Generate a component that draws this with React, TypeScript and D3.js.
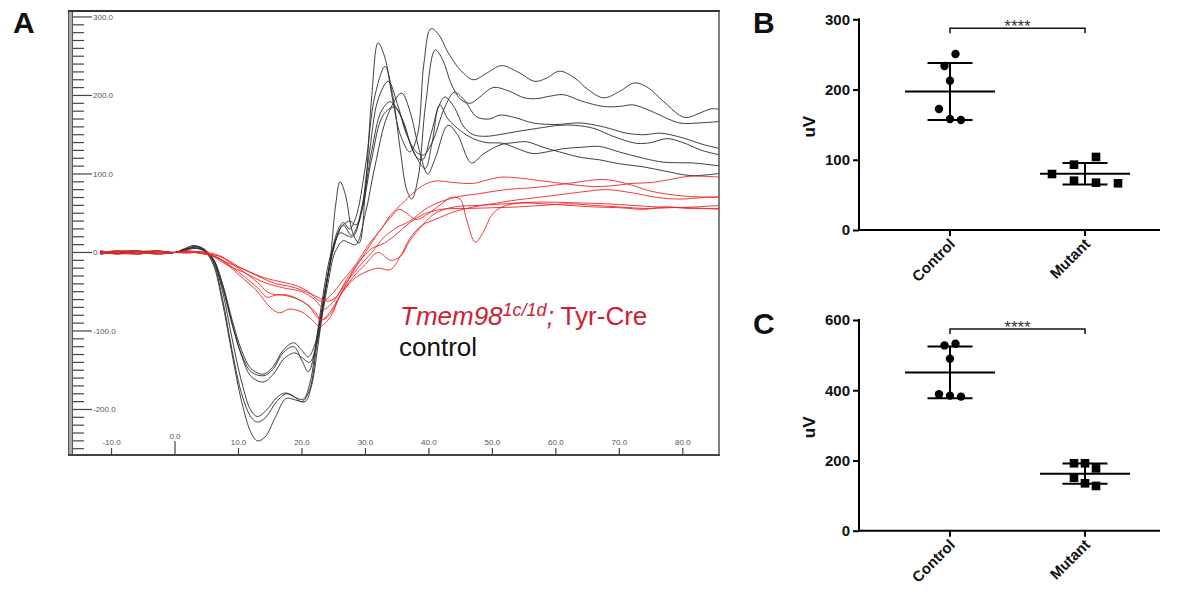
import React, { useEffect, useRef } from "react";
import * as d3 from "d3";

// ---------- Panel A: ERG traces, [time ms, amplitude uV] ----------
const ctl1 = [
  [-11.8, -1], [-9, 2], [-6, -1], [-3, 2], [0, 0], [1.5, 4], [3, 8], [4.5, 5], [6, -10], [7.5, -50],
  [9, -110], [10.5, -165], [12, -202], [13, -209], [14.5, -200], [16, -185], [17.3, -179], [18.5, -182],
  [20, -190], [21.2, -175], [22.3, -120], [23.4, -60], [24.4, -13], [25.3, 60], [26, 90], [26.8, 75],
  [28, 25], [29, 12], [30, 80], [31, 200], [32, 267], [33, 250], [34.3, 194], [35.5, 150], [37, 128],
  [38.2, 150], [39.2, 240], [40.3, 285], [41.5, 278], [43, 255], [45, 232], [47, 220], [49, 228],
  [51.4, 238], [54, 230], [56.7, 218], [58.5, 222], [60.6, 231], [63, 222], [65, 208], [67.5, 197],
  [70, 205], [72.4, 216], [74.5, 210], [77, 192], [80.3, 172], [82.5, 177], [84.5, 183], [86, 182],
];
const ctl2 = [
  [-11.8, 1], [-9, -2], [-6, 1], [-3, -2], [0, 0], [1.5, 3], [3, 6], [4.5, 3], [6, -15], [7.5, -65],
  [9, -130], [10.5, -190], [12, -230], [13, -240], [14.2, -235], [15.8, -210], [17.5, -186], [19, -188],
  [20.5, -190], [21.5, -170], [22.5, -120], [23.5, -60], [24.5, -10], [25.5, 25], [26.5, 38], [27.5, 30],
  [28.5, 45], [30, 110], [31.5, 200], [33.1, 237], [34.3, 200], [35.5, 130], [36.5, 80], [37.3, 68],
  [38.3, 95], [39.5, 190], [41, 258], [42.2, 245], [43.5, 215], [45, 195], [46.5, 190], [48, 198],
  [50.1, 210], [52.5, 206], [55, 197], [57, 196], [59, 199], [61.2, 201], [64, 193], [67.5, 186],
  [70, 186], [72.2, 188], [75, 180], [79.5, 165], [82.5, 165], [86, 167],
];
const ctl3 = [
  [-11.8, -2], [-9, 1], [-6, 2], [-3, -1], [0, 0], [1.5, 5], [3, 9], [4.5, 4], [6, -12], [7.5, -60],
  [9, -125], [10.5, -180], [12, -210], [13, -216], [14.3, -210], [16, -190], [17.6, -180], [19, -185],
  [20.2, -187], [21.3, -165], [22.3, -110], [23.3, -55], [24.3, -10], [25.5, 20], [26.5, 35], [27.8, 22],
  [29, 40], [30.5, 120], [32, 195], [33.6, 218], [35, 190], [36.5, 150], [38, 128], [39.1, 124],
  [40.5, 140], [42.5, 185], [44, 204], [45.5, 195], [47.5, 173], [49.5, 170], [51.2, 175], [53.5, 172],
  [56.4, 165], [60, 163], [63.8, 165], [67.5, 160], [71.1, 152], [74, 150], [76.4, 152], [80, 146],
  [83, 138], [86, 132],
];
const ctl4 = [
  [-11.8, 0], [-9, -1], [-6, 2], [-3, -1], [0, 0], [1.5, 3], [3, 7], [4.5, 4], [6, -8], [7.5, -40],
  [9, -86], [10.5, -125], [12, -148], [13.9, -155], [15.5, -145], [17, -125], [18.7, -115], [20, -125],
  [21, -133], [22, -118], [23, -80], [24, -35], [25, 5], [26, 30], [27.5, 40], [28.5, 35], [29.5, 60],
  [31, 130], [32.5, 180], [33.9, 192], [35.2, 180], [36.8, 145], [38, 122], [39, 118], [40.3, 150],
  [41.5, 185], [42.5, 198], [44, 185], [45.5, 160], [47, 150], [49, 148], [51, 150], [53.8, 154],
  [57, 158], [60.6, 162], [63, 162], [66, 158], [69, 148], [72.7, 139], [75, 140], [77.5, 145],
  [80, 140], [83, 130], [86, 124],
];
const ctl5 = [
  [-11.8, -1], [-9, 1], [-6, -2], [-3, 1], [0, 0], [1.5, 4], [3, 6], [4.5, 2], [6, -10], [7.5, -45],
  [9, -92], [10.5, -130], [12, -152], [14, -157], [15.5, -148], [17, -128], [18.7, -120], [20, -138],
  [21, -152], [21.8, -135], [22.8, -90], [23.8, -40], [24.8, 0], [26, 25], [27, 22], [28, 20],
  [29.5, 55], [31, 120], [32.8, 175], [34.5, 185], [35.8, 170], [37.5, 130], [39.4, 107], [40.5, 140],
  [41.7, 188], [43, 170], [45, 155], [47, 145], [49, 140], [51.7, 139], [54, 132], [56.4, 126],
  [58.5, 128], [61, 132], [64, 134], [66.9, 135], [70, 128], [73.8, 120], [77, 115], [81.6, 114],
  [84, 112], [86, 110],
];
const ctl6 = [
  [-11.8, 1], [-9, -1], [-6, 1], [-3, 2], [0, 0], [1.5, 2], [3, 5], [4.5, 3], [6, -8], [7.5, -42],
  [9, -90], [10.5, -132], [12, -158], [13.9, -165], [15.5, -155], [17.2, -135], [18.9, -128], [20, -134],
  [21.2, -140], [22.2, -120], [23.2, -80], [24.2, -35], [25.2, 0], [26.5, 15], [27.5, 12], [28.5, 10],
  [30, 50], [31.5, 110], [33.5, 175], [35.7, 203], [37, 180], [38.5, 130], [39.8, 100], [41, 120],
  [43, 162], [44.5, 150], [46.7, 114], [48.5, 125], [51.2, 137], [53.5, 140], [55.4, 141], [58, 134],
  [60.6, 128], [64, 121], [66.9, 118], [70, 113], [73.8, 109], [77, 104], [81.1, 98], [84, 99], [86, 101],
];

const mut1 = [
  [-11.8, -2], [-9, 1], [-6, -1], [-3, 2], [0, 0], [2, 1], [4, -1], [6, -4], [8, -12], [11, -22],
  [14, -32], [17, -38], [19, -42], [21, -50], [23, -62], [24.5, -55], [26.5, -35], [28.5, -15],
  [30.5, 10], [32.5, 30], [34, 48], [35.5, 60], [37, 72], [39, 85], [41, 91], [44, 89], [47, 88],
  [49, 92], [51.4, 96], [54, 95], [57, 92], [60, 89], [63, 86], [66, 84], [69, 85], [72, 88], [75, 89],
  [78, 93], [81, 97], [86, 96],
];
const mut2 = [
  [-11.8, 1], [-9, -2], [-6, 1], [-3, -1], [0, 0], [2, 2], [4, 0], [6, -5], [8, -15], [11, -26],
  [14, -38], [17, -45], [20, -50], [22, -60], [23.5, -72], [25, -62], [27, -38], [29, -18], [31, 0],
  [33, 20], [35, 32], [37, 40], [40, 58], [44, 70], [48, 75], [52, 80], [57, 83], [62, 88], [67.5, 93],
  [71, 88], [75, 78], [80, 72], [86, 70],
];
const mut3 = [
  [-11.8, 0], [-9, 2], [-6, -2], [-3, 1], [0, 0], [2, 1], [4, -1], [7, -8], [10, -25], [13, -45],
  [14.5, -57], [16, -54], [17.5, -55], [20, -62], [22, -75], [23.1, -86], [24.5, -78], [26, -55],
  [28, -25], [30, 0], [32, 25], [34, 45], [35.3, 55], [36.5, 50], [38, 42], [40, 50], [42, 62],
  [43.5, 70], [44.9, 68], [46, 40], [47.3, 13], [48.5, 25], [50.1, 50], [52.2, 60], [55, 63], [58, 62],
  [62, 60], [66, 58], [70, 57], [74, 55], [77, 58], [81, 56], [86, 56],
];
const mut4 = [
  [-11.8, -1], [-9, 1], [-6, 2], [-3, -1], [0, 0], [2, -1], [4, 1], [7, -8], [10, -28], [13, -50],
  [15, -70], [16.5, -77], [18, -72], [20, -76], [21.5, -85], [22.8, -94], [24.5, -82], [26, -55],
  [28, -32], [30, -15], [32, 0], [34, -10], [35.5, -5], [37, 15], [39, 35], [41, 50], [44, 58],
  [48, 60], [52, 62], [56, 64], [60, 64], [64, 63], [68, 62], [72, 60], [76, 58], [81, 57], [86, 55],
];
const mut5 = [
  [-11.8, 2], [-9, -1], [-6, -2], [-3, 1], [0, 0], [2, 1], [4, -1], [7, -5], [10, -20], [13, -38],
  [14.5, -50], [16, -54], [17.5, -54], [19, -58], [21, -68], [23, -86], [24.5, -75], [26, -55],
  [28, -35], [30, -25], [32, -20], [33.9, -22], [35.5, -5], [37, 18], [39, 35], [41, 42], [44, 52],
  [47, 58], [50, 62], [53, 66], [57, 70], [61, 74], [65, 78], [68, 80], [72, 76], [76, 70], [80, 68],
  [83, 70], [86, 71],
];
const mut6 = [
  [-11.8, -1], [-9, 2], [-6, 1], [-3, -2], [0, 0], [2, 0], [4, 1], [7, -4], [10, -18], [13, -30],
  [16, -40], [18, -43], [20, -48], [22, -55], [24, -62], [25.2, -58], [27, -35], [29, -12], [31, 5],
  [33, 12], [35, 24], [37, 38], [39, 48], [42, 55], [46, 56], [50, 57], [54, 58], [58, 60], [62, 62],
  [66, 60], [70, 58], [74, 56], [78, 57], [82, 58], [86, 60],
];

const controlTraces = [ctl1, ctl2, ctl3, ctl4, ctl5, ctl6];
const mutantTraces = [mut1, mut2, mut3, mut4, mut5, mut6];

const traceXTicks = [-10, 0, 10, 20, 30, 40, 50, 60, 70, 80];
const traceYMajor = [-200, -100, 0, 100, 200, 300];
const traceYMinor = d3.range(-250, 301, 10);

// ---------- Panels B and C: amplitudes (uV) ----------
const groups = ["Control", "Mutant"];
const aWaveControl = [250.6, 233.5, 212.6, 172.3, 158, 156.6];
const aWaveMutant = [79.7, 93, 70.2, 104, 67.4, 66.5];
const bWaveControl = [527.6, 532.4, 489.9, 388.5, 384.6, 381.8];
const bWaveMutant = [192, 192, 177.6, 151, 135, 127.4];
const aTicks = [0, 100, 200, 300];
const bTicks = [0, 200, 400, 600];

const FONT = "'Liberation Sans', Arial, Helvetica, sans-serif";
const RED_TEXT = "#cc2131";

// rows of close values spread sideways, like a scatter dot plot
const swarm = (values: number[], y: (v: number) => number, spacing: number) => {
  const order = values.map((v, i) => i).sort((a, b) => values[b] - values[a]);
  const rows: number[][] = [];
  order.forEach((i) => {
    const row = rows[rows.length - 1];
    if (row && y(values[i]) - y(values[row[0]]) <= 13) row.push(i);
    else rows.push([i]);
  });
  const offsets = values.map(() => 0);
  rows.forEach((row) => {
    const r = row.length === 2 ? [...row].reverse() : row;
    r.forEach((i, k) => (offsets[i] = (k - (r.length - 1) / 2) * spacing));
  });
  return offsets;
};

const drawTraces = (svg: any) => {
  const x = d3.scaleLinear().domain([-16.7, 85.7]).range([69, 719]);
  const y = d3.scaleLinear().domain([-258, 307.6]).range([455, 11]);
  const g = svg.append("g");

  svg
    .append("clipPath")
    .attr("id", "clipA")
    .append("rect")
    .attr("x", 73)
    .attr("y", 11)
    .attr("width", 646)
    .attr("height", 444);

  // y ticks
  g.selectAll("line.minor")
    .data(traceYMinor)
    .enter()
    .append("line")
    .attr("x1", 73)
    .attr("x2", (d: number) => (traceYMajor.includes(d) ? 92 : 84))
    .attr("y1", (d: number) => y(d))
    .attr("y2", (d: number) => y(d))
    .attr("stroke", "#444")
    .attr("stroke-width", 1.2);
  g.selectAll("text.ylab")
    .data(traceYMajor)
    .enter()
    .append("text")
    .attr("x", 93)
    .attr("y", (d: number) => y(d))
    .attr("dy", "0.35em")
    .attr("font-family", FONT)
    .attr("font-size", 8)
    .attr("fill", "#555")
    .text((d: number) => d.toFixed(1));

  // x ticks
  g.selectAll("line.xt")
    .data(traceXTicks)
    .enter()
    .append("line")
    .attr("x1", (d: number) => x(d))
    .attr("x2", (d: number) => x(d))
    .attr("y1", 455)
    .attr("y2", (d: number) => (d === 0 ? 441 : 448))
    .attr("stroke", "#444")
    .attr("stroke-width", 1.2);
  g.selectAll("text.xlab")
    .data(traceXTicks)
    .enter()
    .append("text")
    .attr("x", (d: number) => x(d))
    .attr("y", (d: number) => (d === 0 ? 436 : 442))
    .attr("dy", "0.35em")
    .attr("text-anchor", "middle")
    .attr("font-family", FONT)
    .attr("font-size", 8)
    .attr("fill", "#555")
    .text((d: number) => d.toFixed(1));

  const line = d3
    .line<number[]>()
    .x((d) => x(d[0]))
    .y((d) => y(d[1]))
    .curve(d3.curveCatmullRom.alpha(0.5));

  const traces = g.append("g").attr("clip-path", "url(#clipA)");
  traces
    .selectAll("path.ctl")
    .data(controlTraces)
    .enter()
    .append("path")
    .attr("d", line)
    .attr("fill", "none")
    .attr("stroke", "#2a2a2a")
    .attr("stroke-width", 0.9);
  traces
    .selectAll("path.mut")
    .data(mutantTraces)
    .enter()
    .append("path")
    .attr("d", line)
    .attr("fill", "none")
    .attr("stroke", "#f22222")
    .attr("stroke-width", 0.9);

  // frame
  g.append("rect")
    .attr("x", 68.5)
    .attr("y", 11)
    .attr("width", 4)
    .attr("height", 444)
    .attr("fill", "#aaa")
    .attr("stroke", "#555")
    .attr("stroke-width", 1);
  g.append("line").attr("x1", 68).attr("x2", 720).attr("y1", 11).attr("y2", 11)
    .attr("stroke", "#333").attr("stroke-width", 2);
  g.append("line").attr("x1", 719).attr("x2", 719).attr("y1", 11).attr("y2", 455)
    .attr("stroke", "#555").attr("stroke-width", 1.5);
  g.append("line").attr("x1", 68).attr("x2", 720).attr("y1", 455).attr("y2", 455)
    .attr("stroke", "#444").attr("stroke-width", 2);

  // legend
  const t = g.append("text").attr("x", 400).attr("y", 325)
    .attr("font-family", FONT).attr("font-size", 26).attr("fill", RED_TEXT);
  t.append("tspan").attr("font-style", "italic").text("Tmem98");
  t.append("tspan").attr("font-style", "italic").attr("font-size", 18).attr("dy", -9).text("1c/1d");
  t.append("tspan").attr("font-style", "italic").attr("dy", 9).text(";");
  t.append("tspan").text(" Tyr-Cre");
  g.append("text").attr("x", 399).attr("y", 356)
    .attr("font-family", FONT).attr("font-size", 26).attr("fill", "#111").text("control");
};

const drawDotPlot = (
  svg: any,
  top: number,
  bottom: number,
  ticks: number[],
  control: number[],
  mutant: number[],
  mutantSpacing: number
) => {
  const g = svg.append("g");
  const y = d3.scaleLinear().domain([0, d3.max(ticks) as number]).range([bottom, top]);
  const x = d3.scalePoint<string>().domain(groups).range([950, 1085]);
  const axisX = 859;

  // axes
  const yAxis = g
    .append("g")
    .attr("transform", `translate(${axisX},0)`)
    .call(d3.axisLeft(y).tickValues(ticks).tickSize(6).tickSizeOuter(0).tickFormat(d3.format("d")));
  yAxis.select(".domain").attr("stroke-width", 2).attr("d", `M0,${bottom + 1}V${top - 1}`);
  yAxis.selectAll(".tick line").attr("stroke-width", 2);
  yAxis.selectAll(".tick text")
    .attr("font-family", FONT).attr("font-size", 15).attr("font-weight", "bold").attr("fill", "#111");

  g.append("line").attr("x1", axisX - 1).attr("x2", 1160).attr("y1", bottom).attr("y2", bottom)
    .attr("stroke", "#000").attr("stroke-width", 2);
  groups.forEach((c) => {
    const cx = x(c) as number;
    g.append("line").attr("x1", cx).attr("x2", cx).attr("y1", bottom).attr("y2", bottom + 6)
      .attr("stroke", "#000").attr("stroke-width", 2);
    g.append("text")
      .attr("transform", `translate(${cx + 6},${bottom + 15}) rotate(-45)`)
      .attr("text-anchor", "end")
      .attr("font-family", FONT).attr("font-size", 15).attr("font-weight", "bold").attr("fill", "#111")
      .text(c);
  });

  g.append("text")
    .attr("transform", `translate(815,${(top + bottom) / 2 + 2}) rotate(-90)`)
    .attr("text-anchor", "middle")
    .attr("font-family", FONT).attr("font-size", 17).attr("font-weight", "bold").attr("fill", "#111")
    .text("uV");

  // significance bracket
  const by = top + 9;
  const x0 = x(groups[0]) as number;
  const x1 = x(groups[1]) as number;
  g.append("path")
    .attr("d", `M${x0},${by + 5}V${by}H${x1}V${by + 5}`)
    .attr("fill", "none").attr("stroke", "#111").attr("stroke-width", 1.5);
  g.append("text").attr("x", (x0 + x1) / 2).attr("y", by + 4).attr("text-anchor", "middle")
    .attr("font-family", FONT).attr("font-size", 17).attr("fill", "#333").text("****");

  const sets = [
    { values: control, cat: groups[0], shape: "circle", spacing: 11 },
    { values: mutant, cat: groups[1], shape: "square", spacing: mutantSpacing },
  ];
  sets.forEach((s) => {
    const cx = x(s.cat) as number;
    const m = d3.mean(s.values) as number;
    const sd = d3.deviation(s.values) as number;
    const offs = swarm(s.values, y, s.spacing);

    if (s.shape === "circle") {
      g.selectAll(null).data(s.values).enter().append("circle")
        .attr("cx", (d: number, i: number) => cx + offs[i])
        .attr("cy", (d: number) => y(d))
        .attr("r", 4.2)
        .attr("fill", "#000");
    } else {
      g.selectAll(null).data(s.values).enter().append("rect")
        .attr("x", (d: number, i: number) => cx + offs[i] - 4.3)
        .attr("y", (d: number) => y(d) - 4.3)
        .attr("width", 8.6)
        .attr("height", 8.6)
        .attr("fill", "#000");
    }

    const bar = g.append("g").attr("stroke", "#000").attr("stroke-width", 2);
    bar.append("line").attr("x1", cx - 45).attr("x2", cx + 45).attr("y1", y(m)).attr("y2", y(m));
    bar.append("line").attr("x1", cx).attr("x2", cx).attr("y1", y(m + sd)).attr("y2", y(m - sd));
    bar.append("line").attr("x1", cx - 22.5).attr("x2", cx + 22.5).attr("y1", y(m + sd)).attr("y2", y(m + sd));
    bar.append("line").attr("x1", cx - 22.5).attr("x2", cx + 22.5).attr("y1", y(m - sd)).attr("y2", y(m - sd));
  });
};

const App = () => {
  const chartRef = useRef<SVGSVGElement>(null);

  useEffect(() => {
    const svg = d3.select(chartRef.current);
    svg.selectAll("*").remove();

    drawTraces(svg);
    drawDotPlot(svg, 19.3, 230, aTicks, aWaveControl, aWaveMutant, 22);
    drawDotPlot(svg, 320, 530.7, bTicks, bWaveControl, bWaveMutant, 11);

    const letters = [
      { t: "A", x: 13, y: 33 },
      { t: "B", x: 753, y: 33 },
      { t: "C", x: 753, y: 334 },
    ];
    svg.selectAll("text.panel").data(letters).enter().append("text")
      .attr("x", (d: any) => d.x)
      .attr("y", (d: any) => d.y)
      .attr("font-family", FONT)
      .attr("font-size", 30)
      .attr("font-weight", "bold")
      .attr("fill", "#111")
      .text((d: any) => d.t);
  }, []);

  return (
    <svg
      ref={chartRef}
      width={1182}
      height={594}
      style={{ position: "absolute", left: 0, top: 0, background: "#fff" }}
    />
  );
};

export default App;
